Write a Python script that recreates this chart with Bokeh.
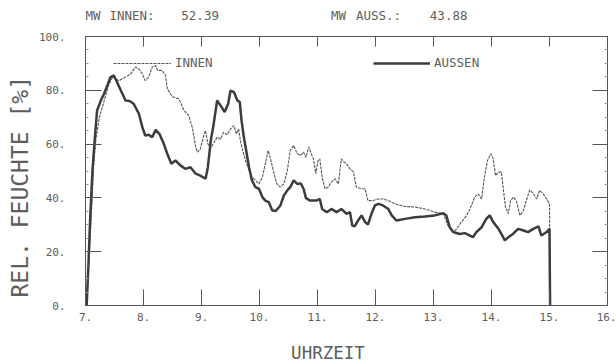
from bokeh.plotting import figure
from bokeh.layouts import column
from bokeh.models import (LinearAxis, FixedTicker, Legend, LegendItem, Title,
                          Range1d, CustomJSTickFormatter)
from bokeh.core.properties import value
from bokeh.embed import file_html
from bokeh.resources import INLINE

# ---------------- data ----------------
innen_hours = [7.02, 7.05, 7.08, 7.11, 7.14, 7.18, 7.24, 7.32, 7.40, 7.47, 7.52, 7.58, 7.63, 7.70,
               7.78, 7.86, 7.92, 7.98, 8.03, 8.09, 8.15, 8.21, 8.24, 8.32, 8.38, 8.41, 8.47, 8.52,
               8.61, 8.70, 8.78, 8.84, 8.90, 8.93, 8.98, 9.04, 9.07, 9.11, 9.16, 9.20, 9.27, 9.33,
               9.38, 9.44, 9.50, 9.56, 9.60, 9.64, 9.67, 9.71, 9.76, 9.82, 9.87, 9.93, 9.99, 10.05,
               10.10, 10.15, 10.19, 10.25, 10.30, 10.36, 10.42, 10.48, 10.53, 10.59, 10.65, 10.71,
               10.76, 10.80, 10.85, 10.90, 10.93, 10.97, 11.01, 11.04, 11.08, 11.13, 11.18, 11.24,
               11.30, 11.36, 11.41, 11.46, 11.50, 11.56, 11.62, 11.67, 11.76, 11.82, 11.87, 11.96,
               12.05, 12.13, 12.22, 12.33, 12.51, 12.68, 12.85, 13.02, 13.17, 13.25, 13.34, 13.40,
               13.48, 13.57, 13.63, 13.71, 13.77, 13.83, 13.87, 13.93, 13.99, 14.03, 14.07, 14.12,
               14.17, 14.20, 14.24, 14.29, 14.33, 14.38, 14.43, 14.49, 14.55, 14.60, 14.66, 14.72,
               14.78, 14.83, 14.89, 14.95, 15.00, 15.01]
innen_values = [0, 12, 25, 38, 52, 62, 70, 76, 82, 85, 84.3, 83.5, 84.3, 85.0,
                86.1, 88.6, 88, 86.1, 83.6, 85, 88.6, 89.2, 87.4, 87.4, 85.5, 80.5, 78.5, 77.4,
                76.8, 72.5, 70.6, 66.3, 58.9, 57, 58.2, 63.2, 65, 60.1, 58.5, 60, 62.6, 61.8,
                64.4, 63.5, 65.6, 66.9, 63.8, 65.6, 61.3, 57.6, 53.9, 50.2, 47.7, 46.5, 45.2, 47.7,
                52.7, 57.6, 54.5, 49, 45.2, 44, 45.2, 50.2, 57.6, 59.5, 56.4, 55.8,
                57, 55, 58.9, 56, 54.5, 49, 53.9, 54.5, 47.7, 43.4, 43.9, 45.9,
                47.1, 45.2, 54.5, 53.3, 52.7, 50.8, 49.6, 44, 43.4, 43.4, 39, 39,
                39.6, 39.6, 39, 37.8, 36.8, 36.6, 35.9, 34.7, 34.1, 29.7, 27.3, 28.5,
                31, 33.5, 35.9, 40.3, 41.5, 39.6, 46.5, 53.9, 56.4, 54.5, 48.3, 49.6,
                49.6, 44, 36.6, 34.1, 39, 40.3, 38.8, 33.5, 35.3, 39, 43, 41.6,
                39.6, 42.8, 41.6, 39.6, 37.8, 0]

aussen_hours = [7.02, 7.05, 7.08, 7.12, 7.16, 7.20, 7.26, 7.32, 7.38, 7.43, 7.49, 7.57, 7.63, 7.69,
                7.76, 7.83, 7.92, 7.98, 8.03, 8.09, 8.15, 8.21, 8.28, 8.35, 8.41, 8.48, 8.55, 8.64,
                8.72, 8.81, 8.90, 8.98, 9.07, 9.11, 9.16, 9.21, 9.27, 9.33, 9.40, 9.46, 9.50, 9.56,
                9.62, 9.66, 9.69, 9.73, 9.76, 9.82, 9.87, 9.93, 9.99, 10.05, 10.10, 10.16, 10.22,
                10.28, 10.36, 10.42, 10.48, 10.53, 10.59, 10.65, 10.71, 10.76, 10.80, 10.87, 10.98,
                11.04, 11.08, 11.16, 11.24, 11.33, 11.41, 11.50, 11.56, 11.60, 11.64, 11.70, 11.76,
                11.82, 11.87, 11.93, 11.99, 12.05, 12.13, 12.22, 12.28, 12.36, 12.51, 12.68, 12.85,
                13.02, 13.17, 13.22, 13.28, 13.34, 13.45, 13.54, 13.63, 13.68, 13.74, 13.83, 13.91,
                13.97, 14.03, 14.12, 14.17, 14.23, 14.29, 14.37, 14.46, 14.55, 14.63, 14.72, 14.81,
                14.86, 14.95, 15.00, 15.01]
aussen_values = [0, 15, 32, 50, 62, 72.5, 76, 78.7, 82, 84.9, 85.5, 81.8, 79, 76.2,
                 76, 75, 71.3, 66.3, 63.2, 63.5, 62.6, 65.3, 63.6, 60.1, 56.4, 52.7, 53.9, 52,
                 50.8, 51.4, 49, 48.3, 47.1, 51.4, 61.3, 67.5, 76.2, 74.3, 71.9, 75, 79.9, 79.3,
                 76.2, 75.6, 68.8, 62.6, 58.9, 51.4, 46.5, 44, 43.4, 40.3, 39, 38.4, 35.3,
                 35.1, 37.2, 40.9, 42.8, 44, 46.5, 45.2, 45.4, 43.4, 40, 39, 39,
                 39.6, 35.9, 34.7, 35.9, 34.7, 35.9, 34.1, 34.7, 29.7, 29.4, 31.6, 33.5,
                 31, 30.1, 34.1, 37.2, 37.8, 37.2, 35.9, 33.5, 31.6, 32.2, 32.8, 33.1,
                 33.5, 34.3, 33.5, 29.1, 27.3, 26.6, 26.9, 26, 25.4, 27.3, 29.1, 32.2,
                 33.5, 31, 28.5, 26.6, 24.2, 25.4, 26.6, 28.5, 27.9, 27.3, 28.5, 29.4,
                 26, 27.3, 28.5, 0]

x_tick_values = [7, 8, 9, 10, 11, 12, 13, 14, 15, 16]
x_tick_labels = ["7.", "8.", "9.", "10.", "11.", "12.", "13.", "14.", "15.", "16."]
y_tick_values = [0, 20, 40, 60, 80, 100]
y_tick_labels = ["0.", "20.", "40.", "60.", "80.", "100."]
y_minor_values = [5, 10, 15, 25, 30, 35, 45, 50, 55, 65, 70, 75, 85, 90, 95]

header_texts = ["MW", "INNEN:", "52.39", "MW", "AUSS.:", "43.88"]
x_title = "UHRZEIT"
y_title = "REL. FEUCHTE [%]"

# ---------------- styling ----------------
FONT = "DejaVu Sans Mono"
TXT = "#5e5e5e"
AX = "#555555"
W = 616
HEAD_H = 30
FOOT_H = 30
MAIN_H = 364 - HEAD_H - FOOT_H
LEFT, RIGHT = 84, 9
X0, X1 = 7, 16
px_per_h = (W - LEFT - RIGHT) / (X1 - X0)


def sx_to_h(sx):
    return X0 + (sx - LEFT) / px_per_h


p = figure(width=W, height=MAIN_H, output_backend="svg", toolbar_location=None,
           x_range=Range1d(X0, X1), y_range=Range1d(0, 100),
           min_border_left=LEFT, min_border_right=RIGHT, min_border_top=6, min_border_bottom=29)
p.background_fill_color = "white"
p.border_fill_color = "white"
p.outline_line_color = AX
p.xgrid.visible = False
p.ygrid.visible = False


def strip(height):
    f = figure(width=W, height=height, output_backend="svg", toolbar_location=None,
               x_range=p.x_range, y_range=Range1d(0, 1),
               x_axis_type=None, y_axis_type=None, min_border=0,
               min_border_left=LEFT, min_border_right=RIGHT)
    f.outline_line_color = None
    f.grid.visible = False
    return f


# header strip: its frame is aligned with the main frame by the column layout
head = strip(HEAD_H)
head_cols = [84, 108, 180, 330, 355, 429]  # pixel columns where the header words start
head.text(x=[sx_to_h(sx) for sx in head_cols], y=[0.5] * len(header_texts),
          text=header_texts, text_font=value(FONT), text_font_size="12.5px",
          text_color=TXT, text_baseline="middle", text_align="left")

# footer strip with the x axis title
foot = strip(FOOT_H)
foot.text(x=[sx_to_h(290)], y=[0.4], text=[x_title], text_font=value(FONT),
          text_font_size="17.5px", text_color=TXT, text_baseline="middle", text_align="left")

r_innen = p.line(innen_hours, innen_values, line_color="#555555", line_width=1.1, line_dash="3 1")
r_aussen = p.line(aussen_hours, aussen_values, line_color="#3c3c3c", line_width=2.5)

xa = p.xaxis[0]
xa.ticker = FixedTicker(ticks=x_tick_values)
xa.major_label_overrides = {v: l for v, l in zip(x_tick_values, x_tick_labels)}
ya = p.yaxis[0]
ya.ticker = FixedTicker(ticks=y_tick_values, minor_ticks=y_minor_values)
ya.major_label_overrides = {v: l for v, l in zip(y_tick_values, y_tick_labels)}

for ax in (xa, ya):
    ax.axis_line_color = AX
    ax.major_tick_line_color = AX
    ax.major_tick_out = 0
    ax.minor_tick_out = 0
    ax.major_label_text_font = FONT
    ax.major_label_text_font_size = "11px"
    ax.major_label_text_color = TXT

xa.major_tick_in = 16
xa.minor_tick_in = 0
xa.major_label_standoff = 7

ya.major_tick_in = 16
ya.minor_tick_in = 3
ya.minor_tick_line_color = "#999999"
ya.major_label_standoff = 20

blank = CustomJSTickFormatter(code="return ''")
top = LinearAxis(ticker=FixedTicker(ticks=x_tick_values), formatter=blank,
                 major_tick_in=10, major_tick_out=0, minor_tick_in=0, minor_tick_out=0,
                 axis_line_color=AX, major_tick_line_color=AX, major_label_standoff=0,
                 major_label_text_font_size="1px")
right = LinearAxis(ticker=FixedTicker(ticks=y_tick_values, minor_ticks=y_minor_values), formatter=blank,
                   major_tick_in=15, major_tick_out=0, minor_tick_in=3, minor_tick_out=0,
                   minor_tick_line_color="#999999",
                   axis_line_color=AX, major_tick_line_color=AX, major_label_standoff=0,
                   major_label_text_font_size="1px")
p.add_layout(top, "above")
p.add_layout(right, "right")

# y axis title as a side title (allows an exact start position)
p.add_layout(Title(text=y_title, align="left", offset=8, standoff=8, text_font=FONT,
                   text_font_size="23px", text_font_style="normal", text_color=TXT), "left")

# legends
common = dict(orientation="horizontal", padding=0, margin=0, spacing=0,
              border_line_color=None, background_fill_alpha=0,
              glyph_height=12, label_height=12, label_standoff=4,
              label_text_font=FONT, label_text_font_size="12.5px", label_text_color=TXT)
leg_in = Legend(items=[LegendItem(label="INNEN", renderers=[r_innen])],
                location=(28, 235), glyph_width=58, **common)
leg_out = Legend(items=[LegendItem(label="AUSSEN", renderers=[r_aussen])],
                 location=(288, 235), glyph_width=57, **common)
p.add_layout(leg_in)
p.add_layout(leg_out)

layout = column(head, p, foot, spacing=0)
open("out.html", "w").write(file_html(layout, INLINE))
